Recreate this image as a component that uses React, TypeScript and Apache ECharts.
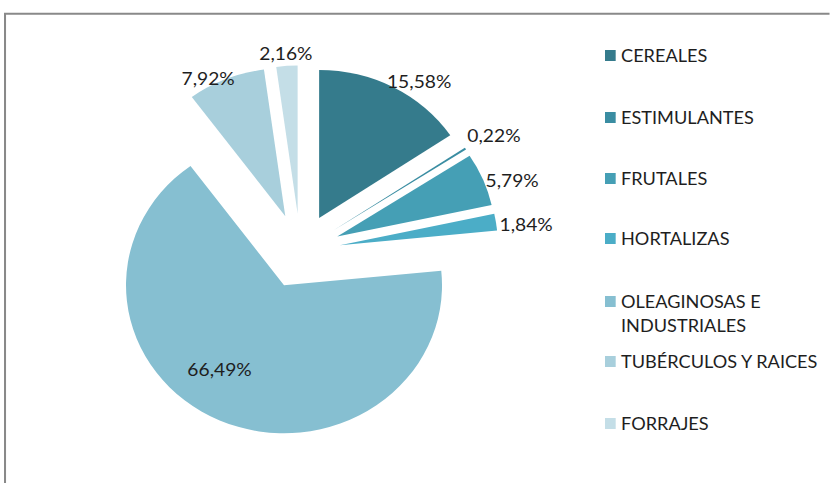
import React, { useEffect, useRef } from "react";
import * as echarts from "echarts";

const categories = [
  "CEREALES",
  "ESTIMULANTES",
  "FRUTALES",
  "HORTALIZAS",
  "OLEAGINOSAS E INDUSTRIALES",
  "TUBÉRCULOS Y RAICES",
  "FORRAJES",
];
const values = [15.58, 0.22, 5.79, 1.84, 66.49, 7.92, 2.16];
const colors = ["#357B8C", "#3A8DA2", "#459FB5", "#4BADC7", "#86BFD1", "#A8CFDC", "#C4DEE7"];

// ---- layout constants (not data) ----
// the original picture is stretched horizontally; reproduce with a CSS scaleX
const SX = 1.0676;
const W = 830 / SX;
const H = 483;
const CENTER: [number, number] = [281.3, 251];
const RADIUS = 148;
const EXPLODE = 37.5;
const FONT = "Lato, 'Open Sans', sans-serif";
const LABEL_SIZE = 18;
const LEGEND_SIZE = 17;
const TEXT_COLOR = "#1e1e1e";
// label placement relative to each exploded slice apex: [angle clockwise from 12 o'clock, distance]
const labelPolar: [number, number][] = [
  [34.4, 165.8],
  [57.6, 177.8],
  [71.0, 173.2],
  [83.1, 175.7],
  [215.8, 103.3],
  [332.4, 156.0],
  [356.1, 161.0],
];
const LEGEND_LEFT = 566.7;
const LEGEND_ICON_W = 10;
const LEGEND_ICON_H = 11;
// legend marker centre rows
const legendRows = [55.5, 117.5, 178.5, 238.5, 301.5, 361.5, 423.5];
const SECOND_LINE_GAP = 24;

const fmtPct = (v: number) => v.toFixed(2).replace(".", ",") + "%";

function labelPositions() {
  const total = values.reduce((a, b) => a + b, 0);
  let start = 0;
  return values.map((v, i) => {
    const sweep = (v / total) * 360;
    const mid = ((start + sweep / 2) * Math.PI) / 180;
    start += sweep;
    const ax = CENTER[0] + EXPLODE * Math.sin(mid);
    const ay = CENTER[1] - EXPLODE * Math.cos(mid);
    const [ang, dist] = labelPolar[i];
    const a = (ang * Math.PI) / 180;
    return [ax + dist * Math.sin(a), ay - dist * Math.cos(a)];
  });
}

function splitLegendName(name: string): [string, string | null] {
  const k = name.indexOf(" E INDUSTRIALES");
  if (k >= 0) return [name.slice(0, k + 2), name.slice(k + 3)];
  return [name, null];
}

export default function App() {
  const ref = useRef<HTMLDivElement>(null);
  useEffect(() => {
    if (!ref.current) return;
    const chart = echarts.init(ref.current, undefined, { renderer: "svg" });
    const pos = labelPositions();
    const LH = 20;
    const legends = categories.map((name, i) => ({
      orient: "vertical",
      left: LEGEND_LEFT,
      top: legendRows[i] - LH / 2,
      padding: 0,
      itemWidth: LEGEND_ICON_W,
      itemHeight: LEGEND_ICON_H,
      icon: "rect",
      selectedMode: false,
      data: [name],
      formatter: (n: string) => splitLegendName(n)[0],
      textStyle: { fontFamily: FONT, fontSize: LEGEND_SIZE, color: TEXT_COLOR, lineHeight: LH },
    }));
    const secondLines: any[] = [];
    categories.forEach((name, i) => {
      const second = splitLegendName(name)[1];
      if (second) {
        secondLines.push({
          type: "text",
          silent: true,
          x: LEGEND_LEFT + LEGEND_ICON_W + 5,
          y: legendRows[i] + SECOND_LINE_GAP,
          style: {
            text: second,
            fontFamily: FONT,
            fontSize: LEGEND_SIZE,
            fill: TEXT_COLOR,
            align: "left",
            verticalAlign: "middle",
          },
        });
      }
    });
    const labels = values.map((v, i) => ({
      type: "text",
      silent: true,
      z: 10,
      x: pos[i][0],
      y: pos[i][1],
      style: {
        text: fmtPct(v),
        fontFamily: FONT,
        fontSize: LABEL_SIZE,
        fill: TEXT_COLOR,
        align: "center",
        verticalAlign: "middle",
      },
    }));
    chart.setOption({
      animation: false,
      backgroundColor: "#ffffff",
      graphic: [
        {
          type: "rect",
          silent: true,
          z: -10,
          shape: { x: 4.7, y: 13.7, width: 1200, height: 1200 },
          style: { fill: "none", stroke: "#898989", lineWidth: 1.9 },
        },
        ...secondLines,
        ...labels,
      ],
      legend: legends,
      series: [
        {
          type: "pie",
          center: CENTER,
          radius: RADIUS,
          startAngle: 90,
          clockwise: true,
          selectedMode: "multiple",
          selectedOffset: EXPLODE,
          avoidLabelOverlap: false,
          emphasis: { disabled: true },
          label: { show: false },
          labelLine: { show: false },
          data: categories.map((name, i) => ({
            name,
            value: values[i],
            selected: true,
            itemStyle: { color: colors[i] },
          })),
        },
      ],
    });
    return () => chart.dispose();
  }, []);
  return (
    <div
      ref={ref}
      style={{
        position: "fixed",
        left: 0,
        top: 0,
        width: W,
        height: H,
        background: "#fff",
        transform: `scaleX(${SX})`,
        transformOrigin: "0 0",
      }}
    />
  );
}
